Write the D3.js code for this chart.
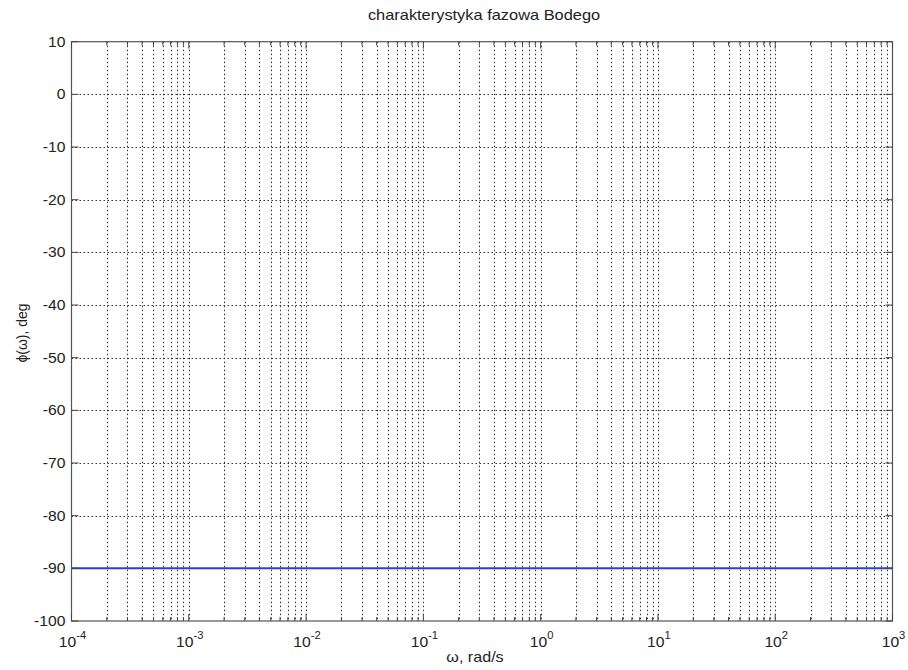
<!DOCTYPE html>
<html><head><meta charset="utf-8">
<script src="https://cdn.jsdelivr.net/npm/d3@7"></script>
<style>body{margin:0;background:#fff}svg{display:block}text{font-family:"Liberation Sans",Arial,sans-serif}</style>
</head><body><svg id="c" width="908" height="670"></svg>
<script>
const omega = [1e-4, 1e-3, 1e-2, 1e-1, 1e0, 1e1, 1e2, 1e3];
const phase = [-90, -90, -90, -90, -90, -90, -90, -90];
const yTicks = [10, 0, -10, -20, -30, -40, -50, -60, -70, -80, -90, -100];
const xExponents = [-4, -3, -2, -1, 0, 1, 2, 3];
const titleText = "charakterystyka fazowa Bodego";
const xLabel = "ω, rad/s";
const yLabel = "ϕ(ω), deg";

const svg = d3.select("#c");
const L = 71.5, R = 892.5, T = 41.7, B = 621;
const x = d3.scaleLog().domain([1e-4, 1e3]).range([L, R]);
const y = d3.scaleLinear().domain([-100, 10]).range([B, T]);
const SX = 1.12;

const minor = [];
for (let e = -4; e < 3; e++) for (let k = 2; k <= 9; k++) minor.push(k * Math.pow(10, e));
const majors = xExponents.map(e => Math.pow(10, e));

const g = svg.append("g");
const gridStyle = s => s.attr("stroke", "#333").attr("stroke-width", 1).attr("stroke-dasharray", "1.5,2.5").attr("fill", "none");
g.selectAll(".vg").data(majors.concat(minor).filter(v => v > 1e-4 * 1.01 && v < 1e3 * 0.99)).enter().append("line")
  .attr("x1", d => Math.round(x(d)) + 0.5).attr("x2", d => Math.round(x(d)) + 0.5).attr("y1", T).attr("y2", B).call(gridStyle);
g.selectAll(".hg").data(yTicks.filter(v => v < 10 && v > -100)).enter().append("line")
  .attr("y1", d => Math.round(y(d)) + 0.5).attr("y2", d => Math.round(y(d)) + 0.5).attr("x1", L).attr("x2", R).call(gridStyle);

svg.append("path").datum(omega.map((w, i) => [w, phase[i]]))
  .attr("d", d3.line().x(d => x(d[0])).y(d => y(d[1])))
  .attr("fill", "none").attr("stroke", "#2b3bd6").attr("stroke-width", 2);

svg.append("rect").attr("x", L).attr("y", T).attr("width", R - L).attr("height", B - T)
  .attr("fill", "none").attr("stroke", "#555").attr("stroke-width", 1.2);

const tk = svg.append("g").attr("stroke", "#444").attr("stroke-width", 1);
yTicks.forEach(v => {
  const yy = y(v);
  tk.append("line").attr("x1", L).attr("x2", L + 7).attr("y1", yy).attr("y2", yy);
  tk.append("line").attr("x1", R).attr("x2", R - 7).attr("y1", yy).attr("y2", yy);
});
majors.forEach(v => {
  const xx = x(v);
  tk.append("line").attr("x1", xx).attr("x2", xx).attr("y1", B).attr("y2", B - 7);
  tk.append("line").attr("x1", xx).attr("x2", xx).attr("y1", T).attr("y2", T + 7);
});
minor.forEach(v => {
  const xx = x(v);
  tk.append("line").attr("x1", xx).attr("x2", xx).attr("y1", B).attr("y2", B - 4);
  tk.append("line").attr("x1", xx).attr("x2", xx).attr("y1", T).attr("y2", T + 4);
});

const place = (sel, px, py, s) => sel.attr("transform", `translate(${px},${py}) scale(${s},1)`);

svg.selectAll(".yl").data(yTicks).enter().append("text")
  .each(function(d){ place(d3.select(this), L - 6, y(d) + 5, SX); })
  .attr("text-anchor", "end").attr("font-size", 14).attr("fill", "#222").text(d => d);

xExponents.forEach(e => {
  const t = svg.append("text").attr("text-anchor", "middle").attr("font-size", 14).attr("fill", "#222");
  place(t, x(Math.pow(10, e)) + 1, 647, SX);
  t.append("tspan").text("10");
  t.append("tspan").attr("dy", -8).attr("font-size", 10).text(e);
});

const tt = svg.append("text").attr("text-anchor", "middle").attr("font-size", 14.5).attr("fill", "#222").text(titleText);
place(tt, 484, 20, 1.13);
const xl = svg.append("text").attr("text-anchor", "middle").attr("font-size", 14).attr("fill", "#222").text(xLabel);
place(xl, 475, 662, 1.15);
svg.append("text").attr("transform", "translate(27,333) rotate(-90)").attr("text-anchor", "middle")
  .attr("font-size", 14).attr("fill", "#222").text(yLabel);
</script></body></html>
